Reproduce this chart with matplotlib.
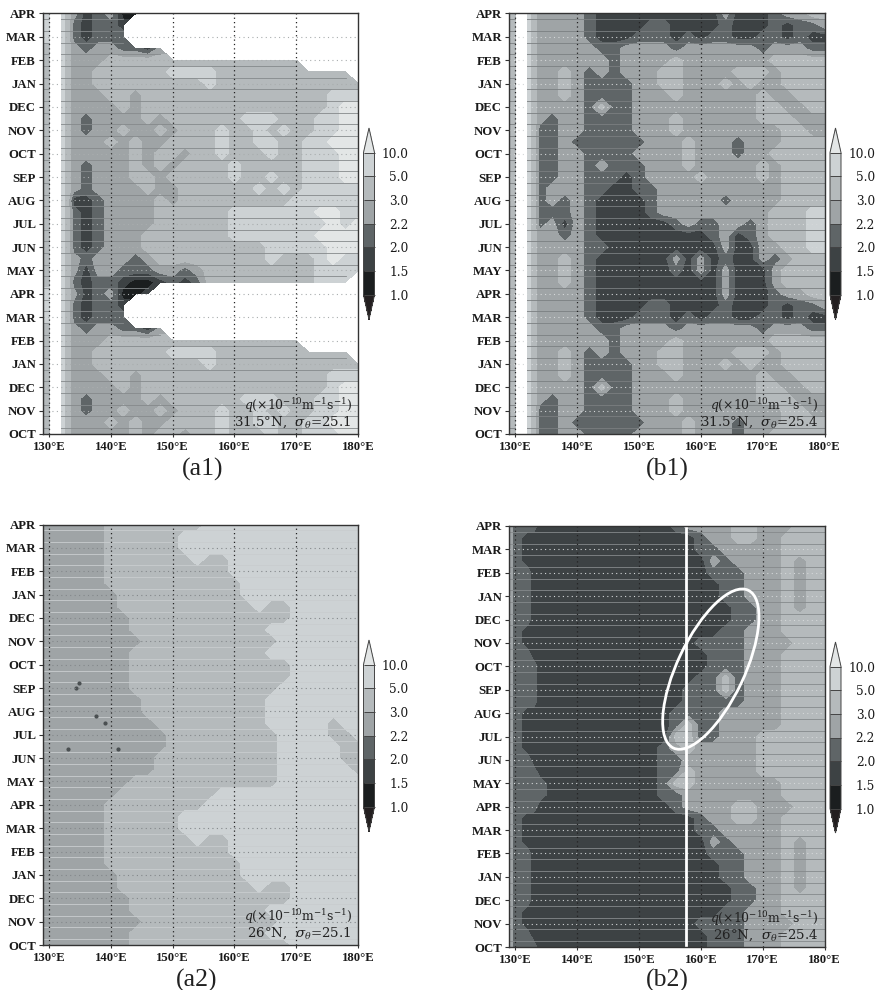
import numpy as np
import matplotlib
matplotlib.use('Agg')
import matplotlib.pyplot as plt
from matplotlib.patches import Ellipse
from matplotlib.transforms import Affine2D

W, H = 877, 990
plt.rcParams['mathtext.fontset'] = 'dejavuserif'

months = ['OCT', 'NOV', 'DEC', 'JAN', 'FEB', 'MAR', 'APR', 'MAY', 'JUN', 'JUL', 'AUG', 'SEP',
          'OCT', 'NOV', 'DEC', 'JAN', 'FEB', 'MAR', 'APR']
lon_ticks = [130, 140, 150, 160, 170, 180]
q_levels = ['1.0', '1.5', '2.0', '2.2', '3.0', '5.0', '10.0']
# under, 1-1.5, 1.5-2, 2-2.2, 2.2-3, 3-5, 5-10, over
q_colors = ['#231f20', '#1b1e1f', '#3d4244', '#5f6567', '#9fa4a6', '#b5babc', '#cdd2d4', '#e3e6e6']

lon = [129, 130, 132, 133, 134, 136, 138, 140, 142, 144, 146, 148, 150, 152, 154, 156, 158, 160,
       162, 164, 166, 168, 170, 172, 174, 176, 178, 180]
# half-month rows from OCT to late SEP, q class per longitude (9 = no data)
a1_q = [
    [5,5,6,5,4,4,4,4,4,5,4,5,5,4,5,5,6,5,5,5,6,5,5,6,6,6,7,7],
    [5,5,6,5,4,4,4,5,4,5,4,4,5,5,5,5,6,5,5,6,6,5,5,6,6,7,7,7],
    [5,5,6,5,4,3,4,4,5,4,4,5,4,5,5,5,6,5,5,6,5,6,5,5,6,6,7,7],
    [5,5,6,5,4,3,4,4,4,4,5,4,5,5,5,5,5,5,6,6,6,5,5,5,6,6,7,7],
    [5,5,6,5,4,4,4,4,5,4,5,5,5,5,5,5,5,5,5,5,5,5,5,5,5,6,7,7],
    [5,5,6,5,4,4,4,5,5,4,5,5,5,5,5,5,5,5,5,5,5,5,5,5,5,6,6,6],
    [5,5,6,5,4,4,5,5,5,5,5,5,5,5,5,6,5,5,5,5,5,5,5,5,5,5,5,5],
    [5,5,6,5,4,4,5,5,5,5,5,5,6,6,6,6,5,5,5,5,5,5,5,5,5,5,5,9],
    [5,5,6,5,4,4,4,5,5,5,5,5,5,5,5,5,5,5,5,5,5,5,5,9,9,9,9,9],
    [5,5,6,5,4,3,4,4,3,3,2,4,9,9,9,9,9,9,9,9,9,9,9,9,9,9,9,9],
    [6,6,6,5,3,2,3,3,3,9,9,9,9,9,9,9,9,9,9,9,9,9,9,9,9,9,9,9],
    [6,6,6,5,3,2,3,3,2,9,9,9,9,9,9,9,9,9,9,9,9,9,9,9,9,9,9,9],
    [6,6,6,5,4,2,3,4,1,1,2,9,9,9,9,9,9,9,9,9,9,9,9,9,9,9,9,9],
    [5,5,6,5,3,2,3,3,2,1,1,2,3,2,3,5,5,5,5,5,5,5,5,5,6,6,6,9],
    [5,5,6,5,4,2,4,4,3,3,3,4,4,3,4,5,5,5,5,5,5,5,5,5,6,6,6,6],
    [5,5,6,5,4,3,4,4,4,3,4,5,5,5,5,5,5,5,5,5,6,5,5,5,6,7,6,6],
    [5,5,6,5,3,2,3,4,4,4,5,5,5,5,5,5,5,5,5,5,6,6,6,6,6,7,7,7],
    [5,5,6,5,3,2,3,4,4,4,5,5,5,5,5,5,5,6,6,6,6,6,6,6,7,7,7,7],
    [5,5,6,5,3,2,3,4,4,4,4,5,5,5,5,5,5,6,6,6,6,6,6,6,6,7,6,7],
    [5,5,6,5,3,2,3,4,4,4,4,5,5,5,5,5,5,6,6,6,6,6,6,6,7,7,6,6],
    [5,5,6,5,2,2,3,4,4,4,4,5,4,5,5,5,5,5,5,5,5,5,6,6,6,6,6,6],
    [5,5,6,5,4,3,4,4,4,4,5,4,4,5,5,5,5,5,5,6,5,6,5,6,6,6,6,6],
    [5,5,6,5,4,3,4,4,4,5,5,4,5,5,5,5,5,6,5,5,6,5,5,6,6,6,7,7],
    [5,5,6,5,4,3,4,4,4,5,4,5,4,5,5,5,5,6,5,5,5,5,5,6,6,6,7,7],
]
b1_q = [
    [5,5,6,5,3,3,4,4,3,3,3,3, 4,4,4,4,5,4,4,4,3,4,4,5,5,5,5,5],
    [5,5,6,5,3,3,4,3,3,3,3,3, 3,4,4,4,5,4,4,4,3,4,4,4,5,5,5,5],
    [5,5,6,5,3,3,4,4,3,3,3,3, 4,4,4,5,4,4,4,4,4,4,4,4,5,5,4,4],
    [5,5,6,5,4,3,4,4,3,3,3,3, 4,4,4,5,4,4,4,4,4,4,5,5,5,4,4,4],
    [5,5,6,5,4,4,4,4,3,5,3,3, 4,4,4,4,4,4,4,4,4,4,5,5,4,4,5,5],
    [5,5,6,5,4,4,5,4,3,3,3,3, 4,4,4,5,4,4,4,4,4,4,5,4,4,5,5,5],
    [5,5,6,5,4,4,5,4,3,3,3,3, 4,4,5,5,4,4,4,5,4,5,4,4,5,5,5,5],
    [5,5,6,5,4,4,5,4,3,4,3,4, 4,4,5,5,4,4,4,4,5,5,5,4,5,5,5,5],
    [5,5,6,5,4,4,4,4,4,4,3,4, 4,4,4,5,4,4,4,4,4,4,4,5,5,5,5,5],
    [5,5,6,5,4,4,4,4,4,3,3,4, 4,4,4,3,4,4,4,4,4,4,3,4,4,4,3,3],
    [5,5,6,5,4,4,4,4,3,2,2,2, 3,3,3,2,3,2,3,3,2,2,3,3,2,3,2,2],
    [5,5,6,5,4,4,4,4,3,2,2,2, 2,3,3,2,2,2,2,3,2,2,2,3,2,3,3,4],
    [5,5,6,5,4,4,4,4,3,2,2,2, 2,2,2,2,2,2,2,4,2,2,2,3,4,4,5,5],
    [5,5,6,5,4,4,5,4,3,2,2,2, 2,2,2,2,2,2,2,4,2,2,2,4,5,5,5,5],
    [5,5,6,5,4,4,5,4,3,2,2,2, 2,2,2,3,2,4,2,4,2,2,2,4,5,5,5,5],
    [5,5,6,5,4,4,5,4,3,2,2,2, 2,2,2,4,2,4,2,3,2,2,4,3,4,5,5,5],
    [5,5,6,5,4,4,4,4,3,3,2,2, 2,2,2,2,2,2,2,4,2,2,4,4,5,5,6,6],
    [5,5,6,5,4,4,3,4,3,2,2,2, 2,2,2,2,2,2,3,4,2,3,4,5,5,5,6,6],
    [5,5,6,5,3,4,2,4,3,2,2,2, 2,2,2,3,4,3,3,4,4,3,4,5,5,5,6,6],
    [5,5,6,5,3,3,3,4,3,2,2,2, 2,3,4,4,4,4,4,4,4,4,4,5,5,5,6,6],
    [5,5,6,5,3,4,3,4,3,2,2,2, 2,3,4,4,4,4,4,3,4,4,4,4,5,5,5,5],
    [5,5,6,5,3,4,4,4,3,3,2,2, 3,3,4,4,4,4,4,4,4,4,4,4,5,5,5,5],
    [5,5,6,5,3,3,4,4,3,3,3,2, 3,4,4,4,4,5,4,4,4,4,5,4,5,5,5,5],
    [5,5,6,5,3,3,4,4,3,4,3,3, 3,4,4,4,5,4,4,4,4,4,5,4,5,5,5,5],
]
a2_q = [
    [4,4,4,4,4,4,4,4,4,5,5,5,5,5,5,5,5,5,5,5,5,5,6,6,6,6,6,6],
    [4,4,4,4,4,4,4,4,4,5,5,5,5,5,5,5,5,5,5,5,6,6,6,6,6,6,6,6],
    [4,4,4,4,4,4,4,4,4,4,5,5,5,5,5,5,5,5,5,5,5,6,6,6,6,6,6,6],
    [4,4,4,4,4,4,4,4,4,5,5,5,5,5,5,5,5,5,5,5,6,6,6,6,6,6,6,6],
    [4,4,4,4,4,4,4,4,4,5,5,5,5,5,5,5,5,5,5,5,5,5,6,6,6,6,6,6],
    [4,4,4,4,4,4,4,4,5,5,5,5,5,5,5,5,5,5,5,6,5,5,6,6,6,6,6,6],
    [4,4,4,4,4,4,4,4,5,5,5,5,5,5,5,5,5,5,6,6,6,6,6,6,6,6,6,6],
    [4,4,4,4,4,4,4,5,5,5,5,5,5,5,5,5,5,5,6,6,6,6,6,6,6,6,6,6],
    [4,4,4,4,4,4,4,5,5,5,5,5,5,5,5,5,5,6,6,6,6,6,6,6,6,6,6,6],
    [4,4,4,4,4,4,4,5,5,5,5,5,5,5,6,5,5,6,6,6,6,6,6,6,6,6,6,6],
    [4,4,4,4,4,4,4,5,5,5,5,5,5,6,6,6,6,6,6,6,6,6,6,6,6,6,6,6],
    [4,4,4,4,4,4,4,5,5,5,5,5,5,6,6,6,6,6,6,6,6,6,6,6,6,6,6,6],
    [4,4,4,4,4,4,4,5,5,5,5,5,5,5,5,6,6,6,6,6,6,6,6,6,6,6,6,6],
    [4,4,4,4,4,4,4,4,5,5,5,5,5,5,5,5,6,6,6,6,6,6,6,6,6,6,6,6],
    [4,4,4,4,4,4,4,4,4,5,5,5,5,5,5,5,5,5,5,5,5,6,6,6,6,6,6,6],
    [4,4,4,4,4,4,4,4,4,4,4,5,5,5,5,5,5,5,5,5,5,6,6,6,6,6,6,5],
    [4,4,4,4,4,4,4,4,4,4,4,5,5,5,5,5,5,5,5,5,5,6,6,6,6,6,5,5],
    [4,4,4,4,4,4,4,4,4,4,4,4,5,5,5,5,5,5,5,5,5,6,6,6,6,6,5,5],
    [4,4,4,4,4,4,4,4,4,4,4,4,5,5,5,5,5,5,5,5,5,6,6,6,6,5,5,6],
    [4,4,4,4,4,4,4,4,4,4,4,5,5,5,5,5,5,5,5,5,6,6,6,6,6,5,6,6],
    [4,4,4,4,4,4,4,4,4,4,5,5,5,5,5,5,5,5,5,5,6,6,6,6,6,6,6,6],
    [4,4,4,4,4,4,4,4,4,4,5,5,5,5,5,5,5,5,5,5,6,6,6,6,6,6,6,6],
    [4,4,4,4,4,4,4,4,4,5,5,5,5,5,5,5,5,5,5,5,5,6,6,6,6,6,6,6],
    [4,4,4,4,4,4,4,4,4,5,5,5,5,5,5,5,5,5,5,5,5,5,6,6,6,6,6,6],
]
b2_q = [
    [4,3,3,3,2, 2,2,2,2,2,2,2,2,2,2, 2,2,2,3,3,3,4,4,4,5,5,5,5],
    [4,3,3,2,2, 2,2,2,2,2,2,2,2,2,2, 2,2,2,3,3,3,4,4,4,5,5,5,5],
    [4,3,2,2,2, 2,2,2,2,2,2,2,2,2,2, 2,2,3,3,3,3,4,4,4,4,5,5,5],
    [4,3,2,2,2, 2,2,2,2,2,2,2,2,2,2, 2,2,2,2,3,3,4,4,4,5,5,5,5],
    [4,3,3,2,2, 2,2,2,2,2,2,2,2,2,2, 2,2,2,2,2,3,3,4,4,5,5,5,5],
    [4,3,3,2,2, 2,2,2,2,2,2,2,2,2,2, 2,2,2,2,2,3,3,4,4,5,4,5,5],
    [4,3,3,2,2, 2,2,2,2,2,2,2,2,2,2, 2,2,2,2,3,3,4,4,4,5,4,5,5],
    [4,3,3,2,2, 2,2,2,2,2,2,2,2,2,2, 2,2,2,2,3,3,4,4,4,5,4,5,5],
    [4,3,3,2,2, 2,2,2,2,2,2,2,2,2,2, 2,2,2,3,3,3,4,4,4,5,4,5,5],
    [4,3,2,2,2, 2,2,2,2,2,2,2,2,2,2, 2,2,2,4,3,4,4,4,4,5,4,5,5],
    [4,3,2,2,2, 2,2,2,2,2,2,2,2,2,2, 2,2,3,3,4,4,4,4,4,5,5,5,5],
    [4,3,2,2,2, 2,2,2,2,2,2,2,2,2,2, 2,2,3,4,4,5,5,4,4,5,5,5,5],
    [4,3,3,3,2, 2,2,2,2,2,2,2,2,2,2, 3,4,4,4,4,5,5,4,4,4,5,5,5],
    [4,3,3,3,3, 2,2,2,2,2,2,2,2,2,3, 3,4,4,4,4,4,4,4,4,5,5,5,5],
    [4,3,3,3,3, 2,2,2,2,2,2,2,2,2,3, 5,5,4,4,4,4,4,4,4,5,5,5,5],
    [4,3,3,3,2, 2,2,2,2,2,2,2,2,2,3, 3,5,4,4,4,4,4,5,5,5,5,5,5],
    [4,3,3,2,2, 2,2,2,2,2,2,2,2,2,3, 3,4,4,4,4,4,4,5,5,5,5,5,5],
    [4,3,2,2,2, 2,2,2,2,2,2,2,2,2,3, 4,5,4,4,4,4,4,5,5,5,5,5,5],
    [4,3,2,2,2, 2,2,2,2,2,2,2,2,2,2, 5,5,3,3,4,4,4,5,5,5,5,5,5],
    [4,3,2,2,2, 2,2,2,2,2,2,2,2,2,2, 3,5,3,3,4,4,4,4,4,5,5,5,5],
    [4,3,2,2,2, 2,2,2,2,2,2,2,2,2,2, 3,3,3,3,4,4,4,4,4,5,5,5,5],
    [4,3,3,3,2, 2,2,2,2,2,2,2,2,2,2, 2,3,3,3,3,3,4,4,4,5,5,5,5],
    [4,3,3,3,2, 2,2,2,2,2,2,2,2,2,2, 2,3,3,3,5,3,4,4,4,5,5,5,5],
    [4,3,3,3,2, 2,2,2,2,2,2,2,2,2,2, 2,2,3,3,5,3,4,4,4,5,5,5,5],
]
# little dark spots in a2
a2_speck_lon = [134.9, 134.4, 137.5, 139.0, 133.0, 141.1]
a2_speck_t = [11.2, 11.0, 9.8, 9.5, 8.4, 8.4]


def px_rect(x0, y0, x1, y1):
    return [x0 / W, 1 - y1 / H, (x1 - x0) / W, (y1 - y0) / H]


def draw_panel(fig, data, box, cbar_box, seam_color, month_grid, caption, cap_xy, lines, has_land):
    ax = fig.add_axes(px_rect(*box))
    rows = np.array(data, dtype=float)
    rows[rows == 9] = np.nan
    z = np.vstack([rows, rows, rows[:13]])
    t = np.arange(z.shape[0]) * 0.5
    cf = ax.contourf(lon, t, z, levels=np.arange(0.5, 7), colors=q_colors, extend='both')
    # thin lines between the pentads, not over the missing part
    for i in range(z.shape[0] - 1):
        seam = np.full(len(lon), t[i] + 0.25)
        seam[np.isnan(z[i]) | np.isnan(z[i + 1])] = np.nan
        ax.plot(lon, seam, color=seam_color, lw=0.6, zorder=3)
    if has_land:
        ax.axvspan(130.2, 131.85, color='white', lw=0, zorder=3.5)
    for x in lon_ticks[:-1]:
        ax.axvline(x, color='#222222', lw=0.9, ls=(0, (1, 2.5)), zorder=4)
    for y in range(1, 18):
        ax.axhline(y, color=month_grid, lw=0.8, ls=(0, (1, 3)), zorder=4)
    ax.set_xlim(129, 180)
    ax.set_ylim(0, 18)
    ax.set_xticks(lon_ticks)
    ax.set_xticklabels([f'{v}°E' for v in lon_ticks], family='Liberation Serif', weight='bold', fontsize=9.2)
    ax.set_yticks(range(19))
    ax.set_yticklabels(months, family='Liberation Serif', weight='bold', fontsize=9.2)
    ax.tick_params(axis='x', length=2.5, width=0.8, color='#333333', pad=2.5, labelcolor='#1a1a1a')
    ax.tick_params(axis='y', length=3, width=0.8, color='#333333', pad=2, labelcolor='#1a1a1a')
    for s in ax.spines.values():
        s.set_color('#333333')
        s.set_linewidth(1.0)
        s.set_zorder(6)
    ax.text(0.98, 0.0665, r'$q(\times10^{-10}$m$^{-1}$s$^{-1})$', transform=ax.transAxes, ha='right', va='center',
            family='DejaVu Serif', fontsize=8.9, color='#222222', zorder=7)
    ax.text(0.98, 0.0285, lines, transform=ax.transAxes, ha='right', va='center',
            family='DejaVu Serif', fontsize=9.6, color='#222222', zorder=7)
    fig.text(cap_xy[0] / W, 1 - cap_xy[1] / H, caption, family='Liberation Serif', fontsize=18.5,
             ha='center', va='center', color='#222222')

    cax = fig.add_axes(px_rect(*cbar_box))
    cb = fig.colorbar(cf, cax=cax, extendfrac=24.5 / 142, drawedges=True)
    cb.set_ticks(np.arange(0.5, 7))
    cb.set_ticklabels(q_levels, family='DejaVu Serif', fontsize=8.7, ha='right', color='#1a1a1a')
    cax.tick_params(length=0, pad=24.5)
    cb.outline.set_edgecolor('#444444')
    cb.outline.set_linewidth(0.7)
    cb.dividers.set_color('#444444')
    cb.dividers.set_linewidth(0.7)
    return ax


fig = plt.figure(figsize=(W / 100, H / 100), dpi=100)

draw_panel(fig, a1_q, (43, 13.5, 358, 434), (363.5, 128, 374.5, 319.5), '#85898b', '#a9adae',
           '(a1)', (203, 469), '31.5°N,  $\\sigma_\\theta$=25.1', True)
draw_panel(fig, b1_q, (509, 13.5, 824.7, 434), (830, 128, 841, 319.5), '#7b7f81', '#d5d8d9',
           '(b1)', (667, 469), '31.5°N,  $\\sigma_\\theta$=25.4', True)
ax_a2 = draw_panel(fig, a2_q, (43, 524.5, 358, 945), (363.5, 640, 374.5, 831.5), '#c9cdcf', '#83878a',
                   '(a2)', (197, 980), '26°N,  $\\sigma_\\theta$=25.1', False)
ax_b2 = draw_panel(fig, b2_q, (509, 526, 824.7, 947), (830, 642, 841, 833), '#85898b', '#d5d8d9',
                   '(b2)', (667, 980), '26°N,  $\\sigma_\\theta$=25.4', False)

ax_a2.plot(a2_speck_lon, a2_speck_t, ls='none', marker='o', ms=2, color='#4a4f51', zorder=3)

# white marks on b2
ax_b2.axvline(157.6, color='white', lw=2, zorder=5)
cx, cy = ax_b2.transData.transform((161.6, 11.88))
ax_b2.add_patch(Ellipse((0, 0), 2 * 87.3, 2 * 33.5, angle=64.6, fill=False, ec='white', lw=2, zorder=5,
                        transform=Affine2D().translate(cx, cy)))

fig.savefig('out.png', dpi=100)
